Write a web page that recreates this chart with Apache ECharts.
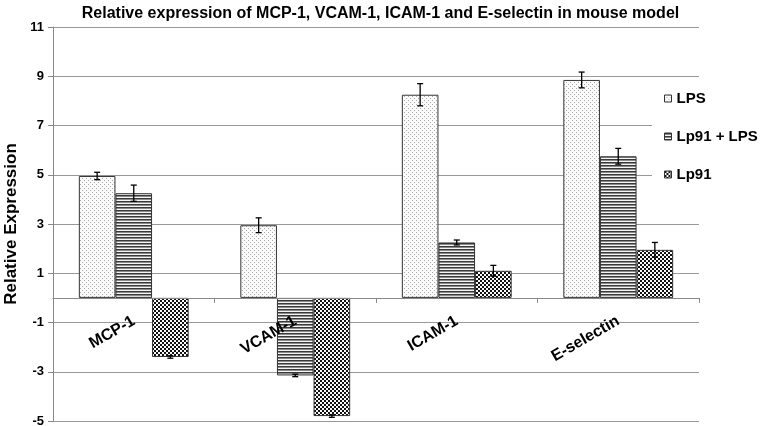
<!DOCTYPE html>
<html>
<head>
<meta charset="utf-8">
<script src="https://cdn.jsdelivr.net/npm/echarts@6/dist/echarts.min.js"></script>
<style>html,body{margin:0;padding:0;background:#fff}#c{width:761px;height:426px}</style>
</head>
<body>
<div id="c"></div>
<script>
const categories = ['MCP-1', 'VCAM-1', 'ICAM-1', 'E-selectin'];
const seriesNames = ['LPS', 'Lp91 + LPS', 'Lp91'];
const lpsValues = [4.95, 2.95, 8.25, 8.85];
const lpsErrors = [0.15, 0.30, 0.45, 0.32];
const lp91LpsValues = [4.25, -3.15, 2.25, 5.75];
const lp91LpsErrors = [0.33, 0.05, 0.10, 0.32];
const lp91Values = [-2.4, -4.8, 1.1, 1.95];
const lp91Errors = [0.05, 0.05, 0.22, 0.30];
const yMin = -5, yMax = 11, yStep = 2;

function makePattern(kind) {
  const c = document.createElement('canvas');
  const ctx = c.getContext('2d');
  if (kind === 'dots') {
    c.width = 4; c.height = 4;
    ctx.fillStyle = '#fbfbfb'; ctx.fillRect(0, 0, 4, 4);
    ctx.fillStyle = '#a8a8a8';
    ctx.fillRect(0, 0, 1, 1); ctx.fillRect(2, 2, 1, 1);
  } else if (kind === 'stripes') {
    c.width = 3; c.height = 3;
    ctx.fillStyle = '#3a3a3a'; ctx.fillRect(0, 0, 3, 1);
    ctx.fillStyle = '#8a8a8a'; ctx.fillRect(0, 1, 3, 1);
    ctx.fillStyle = '#f4f4f4'; ctx.fillRect(0, 2, 3, 1);
  } else {
    c.width = 4; c.height = 4;
    ctx.fillStyle = '#fafafa'; ctx.fillRect(0, 0, 4, 4);
    ctx.fillStyle = '#111';
    ctx.fillRect(0, 0, 2, 2); ctx.fillRect(2, 2, 2, 2);
  }
  return { image: c, repeat: 'repeat' };
}

const fills = [makePattern('dots'), makePattern('stripes'), makePattern('checker')];
const values = [lpsValues, lp91LpsValues, lp91Values];
const errors = [lpsErrors, lp91LpsErrors, lp91Errors];
const gapRatio = 0.32;
const font = 'Liberation Sans, Arial, sans-serif';

const series = [];
values.forEach((vals, si) => {
  series.push({
    name: seriesNames[si],
    type: 'bar',
    data: vals,
    barGap: '0%',
    barCategoryGap: (gapRatio * 100) + '%',
    itemStyle: { color: fills[si], borderColor: '#333', borderWidth: 1 },
    z: 2
  });
});
values.forEach((vals, si) => {
  series.push({
    type: 'custom',
    silent: true,
    z: 5,
    data: vals.map((v, i) => [i, v, errors[si][i]]),
    renderItem: function (params, api) {
      const idx = api.value(0);
      const v = api.value(1);
      const e = api.value(2);
      const band = api.size([1, 0])[0];
      const bw = band * (1 - gapRatio) / 3;
      const center = api.coord([idx, v]);
      const x = center[0] + (si - 1) * bw;
      const yHi = api.coord([idx, v + e])[1];
      const yLo = api.coord([idx, v - e])[1];
      const cap = 3;
      const st = { stroke: '#000', lineWidth: 1.3 };
      return {
        type: 'group',
        children: [
          { type: 'line', shape: { x1: x, y1: yHi, x2: x, y2: yLo }, style: st },
          { type: 'line', shape: { x1: x - cap, y1: yHi, x2: x + cap, y2: yHi }, style: st },
          { type: 'line', shape: { x1: x - cap, y1: yLo, x2: x + cap, y2: yLo }, style: st }
        ]
      };
    }
  });
});

const chart = echarts.init(document.getElementById('c'), null, { renderer: 'canvas' });
chart.setOption({
  animation: false,
  backgroundColor: '#fff',
  textStyle: { fontFamily: font },
  title: {
    text: 'Relative expression of MCP-1, VCAM-1, ICAM-1 and E-selectin in mouse model',
    left: 'center', top: 1,
    textStyle: { fontFamily: font, fontWeight: 'bold', fontSize: 16, color: '#000' }
  },
  legend: {
    data: seriesNames,
    orient: 'vertical',
    icon: 'rect',
    left: 652, top: 79,
    padding: [12, 4, 12, 12],
    backgroundColor: '#fff',
    itemWidth: 7, itemHeight: 7, itemGap: 23,
    itemStyle: { borderColor: '#333', borderWidth: 1 },
    textStyle: { fontFamily: font, fontWeight: 'bold', fontSize: 15, color: '#000' }
  },
  grid: { left: 53, right: 62, top: 27, bottom: 5, containLabel: false, outerBoundsMode: 'none' },
  xAxis: {
    type: 'category',
    data: categories,
    position: 'bottom',
    offset: 0,
    z: 10,
    axisLine: { onZero: false, lineStyle: { color: '#888', width: 1 } },
    axisTick: { show: true, length: 5, lineStyle: { color: '#888' } },
    axisLabel: { rotate: 30, margin: 22, fontFamily: font, fontWeight: 'bold', fontSize: 16, color: '#000' }
  },
  yAxis: {
    type: 'value',
    min: yMin, max: yMax, interval: yStep,
    name: 'Relative Expression',
    nameLocation: 'middle', nameGap: 26,
    nameTextStyle: { fontFamily: font, fontWeight: 'bold', fontSize: 17, color: '#000' },
    axisLine: { show: true, lineStyle: { color: '#888' } },
    axisTick: { show: true, length: 5, lineStyle: { color: '#888' } },
    axisLabel: { fontFamily: font, fontWeight: 'bold', fontSize: 13, color: '#000', margin: 9 },
    splitLine: { show: true, lineStyle: { color: '#999', width: 1 } }
  },
  series: series
});
// move the category axis (line, ticks, labels) up to the value-axis zero
const zeroY = chart.convertToPixel({ yAxisIndex: 0 }, 0);
const bottomY = chart.convertToPixel({ yAxisIndex: 0 }, yMin);
chart.setOption({ xAxis: { offset: -(bottomY - zeroY) } });
</script>
</body>
</html>
